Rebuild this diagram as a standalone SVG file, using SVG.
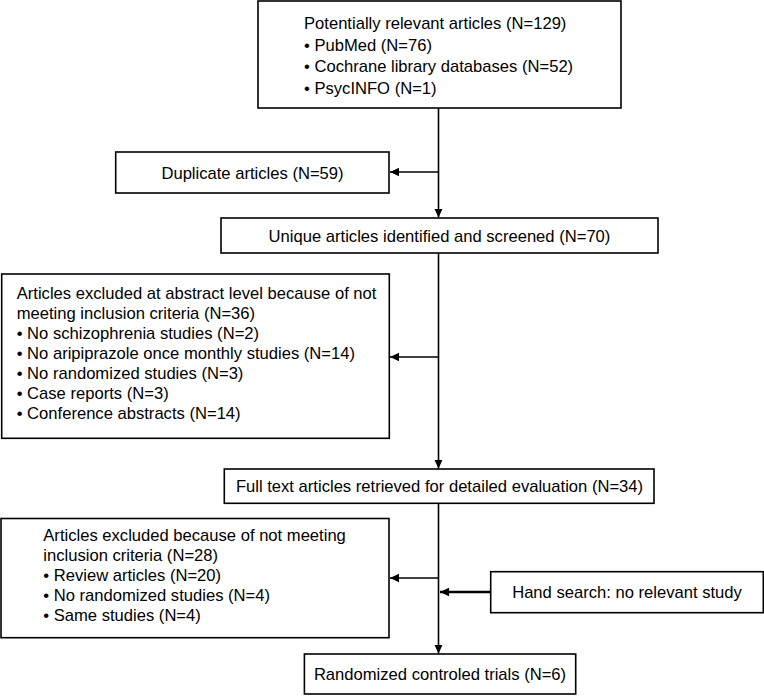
<svg xmlns="http://www.w3.org/2000/svg" width="764" height="696" viewBox="0 0 764 696">
<style>
.box{fill:#fff;stroke:#000;stroke-width:1.6}
text{font-family:"Liberation Sans",Arial,sans-serif;font-size:16.6px;fill:#000}
.c{text-anchor:middle}
.ln{stroke:#000;stroke-width:1.6;fill:none}
.thick{stroke-width:2.4}
</style>
<defs>
<marker id="ah" markerWidth="10" markerHeight="10" refX="9" refY="5" orient="auto" markerUnits="userSpaceOnUse">
<path d="M0,0.8 L9,5 L0,9.2 Z" fill="#000"/>
</marker>
</defs>
<rect width="764" height="696" fill="#fff"/>
<g id="connectors">
<line class="ln" x1="438.5" y1="108" x2="438.5" y2="217.5" marker-end="url(#ah)"/>
<line class="ln" x1="438.5" y1="172" x2="390" y2="172" marker-end="url(#ah)"/>
<line class="ln" x1="438.5" y1="253" x2="438.5" y2="468.5" marker-end="url(#ah)"/>
<line class="ln" x1="438.5" y1="357" x2="390" y2="357" marker-end="url(#ah)"/>
<line class="ln" x1="438.5" y1="503" x2="438.5" y2="653.5" marker-end="url(#ah)"/>
<line class="ln" x1="438.5" y1="578" x2="390" y2="578" marker-end="url(#ah)"/>
<line class="ln thick" x1="490.7" y1="592" x2="440" y2="592" marker-end="url(#ah)"/>
</g>
<g id="n1">
<rect class="box" x="258" y="1" width="363" height="107"/>
<text x="304" y="29.3">Potentially relevant articles (N=129)</text>
<text x="304" y="50.5">• PubMed (N=76)</text>
<text x="304" y="72.2">• Cochrane library databases (N=52)</text>
<text x="304" y="93.5">• PsycINFO (N=1)</text>
</g>
<g id="n2">
<rect class="box" x="115.7" y="152" width="273.3" height="41"/>
<text class="c" x="252.5" y="178.5">Duplicate articles (N=59)</text>
</g>
<g id="n3">
<rect class="box" x="221" y="218" width="437" height="35"/>
<text class="c" x="439.5" y="241.5">Unique articles identified and screened (N=70)</text>
</g>
<g id="n4">
<rect class="box" x="1.7" y="274" width="387.6" height="164.3"/>
<text x="16.7" y="299.3">Articles excluded at abstract level because of not</text>
<text x="16.7" y="319.3">meeting inclusion criteria (N=36)</text>
<text x="16.7" y="339.3">• No schizophrenia studies (N=2)</text>
<text x="16.7" y="359.3">• No aripiprazole once monthly studies (N=14)</text>
<text x="16.7" y="379.3">• No randomized studies (N=3)</text>
<text x="16.7" y="399.3">• Case reports (N=3)</text>
<text x="16.7" y="419.3">• Conference abstracts (N=14)</text>
</g>
<g id="n5">
<rect class="box" x="224.3" y="469" width="429.7" height="34.3"/>
<text class="c" x="439.5" y="491.5">Full text articles retrieved for detailed evaluation (N=34)</text>
</g>
<g id="n6">
<rect class="box" x="1" y="518.5" width="388" height="119.2"/>
<text x="43.3" y="541">Articles excluded because of not meeting</text>
<text x="43.3" y="561">inclusion criteria (N=28)</text>
<text x="43.3" y="581">• Review articles (N=20)</text>
<text x="43.3" y="601">• No randomized studies (N=4)</text>
<text x="43.3" y="621">• Same studies (N=4)</text>
</g>
<g id="n7">
<rect class="box" x="490.7" y="571.7" width="272.6" height="41"/>
<text class="c" x="627" y="598">Hand search: no relevant study</text>
</g>
<g id="n8">
<rect class="box" x="304.4" y="654" width="271.3" height="40"/>
<text class="c" x="440" y="680">Randomized controled trials (N=6)</text>
</g>
</svg>
